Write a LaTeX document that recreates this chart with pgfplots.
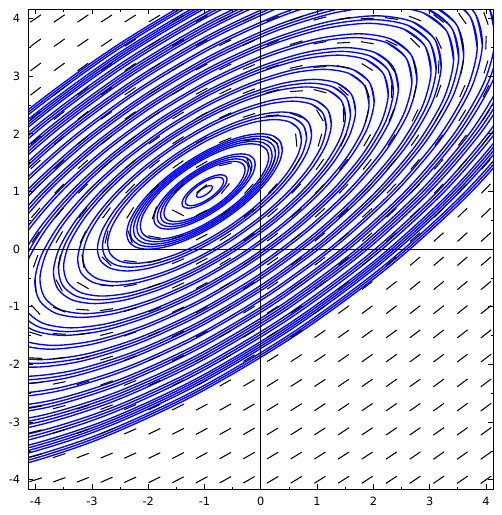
\documentclass[border=0pt]{standalone}
\usepackage{pgfplots}
\pgfplotsset{compat=1.18}
\usepackage{pgfplotstable}
\usepackage{fontspec}
\setmainfont{DejaVu Sans}

% unit closed orbit around the centre (-1,1), relative coordinates
\pgfplotstableread{
u v
2.002 1.026
1.947 1.257
1.759 1.402
1.452 1.451
1.045 1.402
0.567 1.257
0.051 1.027
-0.469 0.726
-0.957 0.376
-1.380 0.000
-1.708 -0.375
-1.921 -0.725
-2.002 -1.026
-1.947 -1.257
-1.759 -1.402
-1.452 -1.451
-1.045 -1.402
-0.567 -1.257
-0.051 -1.027
0.469 -0.726
0.957 -0.376
1.380 0.000
1.708 0.375
1.921 0.725
2.002 1.026
1.947 1.257
1.759 1.402
}\orbit

% slope field: grid point and direction
\pgfplotstableread[row sep=\\]{
x y dx dy\\
-4.00 -4.00 -3.43 -1.05\\ -3.58 -4.00 -3.65 -1.27\\ -3.16 -4.00 -3.87 -1.49\\ -2.74 -4.00 -4.09 -1.71\\ -2.32 -4.00 -4.31 -1.93\\
-1.89 -4.00 -4.53 -2.16\\ -1.47 -4.00 -4.75 -2.38\\ -1.05 -4.00 -4.97 -2.60\\ -0.63 -4.00 -5.19 -2.82\\ -0.21 -4.00 -5.41 -3.04\\
0.21 -4.00 -5.64 -3.26\\ 0.63 -4.00 -5.86 -3.48\\ 1.05 -4.00 -6.08 -3.70\\ 1.47 -4.00 -6.30 -3.92\\ 1.89 -4.00 -6.52 -4.15\\
2.32 -4.00 -6.74 -4.37\\ 2.74 -4.00 -6.96 -4.59\\ 3.16 -4.00 -7.18 -4.81\\ 3.58 -4.00 -7.40 -5.03\\ 4.00 -4.00 -7.63 -5.25\\
-4.00 -3.58 -3.00 -0.83\\ -3.58 -3.58 -3.23 -1.05\\ -3.16 -3.58 -3.45 -1.27\\ -2.74 -3.58 -3.67 -1.49\\ -2.32 -3.58 -3.89 -1.71\\
-1.89 -3.58 -4.11 -1.93\\ -1.47 -3.58 -4.33 -2.16\\ -1.05 -3.58 -4.55 -2.38\\ -0.63 -3.58 -4.77 -2.60\\ -0.21 -3.58 -4.99 -2.82\\
0.21 -3.58 -5.22 -3.04\\ 0.63 -3.58 -5.44 -3.26\\ 1.05 -3.58 -5.66 -3.48\\ 1.47 -3.58 -5.88 -3.70\\ 1.89 -3.58 -6.10 -3.92\\
2.32 -3.58 -6.32 -4.15\\ 2.74 -3.58 -6.54 -4.37\\ 3.16 -3.58 -6.76 -4.59\\ 3.58 -3.58 -6.98 -4.81\\ 4.00 -3.58 -7.20 -5.03\\
-4.00 -3.16 -2.58 -0.61\\ -3.58 -3.16 -2.80 -0.83\\ -3.16 -3.16 -3.03 -1.05\\ -2.74 -3.16 -3.25 -1.27\\ -2.32 -3.16 -3.47 -1.49\\
-1.89 -3.16 -3.69 -1.71\\ -1.47 -3.16 -3.91 -1.93\\ -1.05 -3.16 -4.13 -2.16\\ -0.63 -3.16 -4.35 -2.38\\ -0.21 -3.16 -4.57 -2.60\\
0.21 -3.16 -4.79 -2.82\\ 0.63 -3.16 -5.02 -3.04\\ 1.05 -3.16 -5.24 -3.26\\ 1.47 -3.16 -5.46 -3.48\\ 1.89 -3.16 -5.68 -3.70\\
2.32 -3.16 -5.90 -3.92\\ 2.74 -3.16 -6.12 -4.15\\ 3.16 -3.16 -6.34 -4.37\\ 3.58 -3.16 -6.56 -4.59\\ 4.00 -3.16 -6.78 -4.81\\
-4.00 -2.74 -2.16 -0.39\\ -3.58 -2.74 -2.38 -0.61\\ -3.16 -2.74 -2.60 -0.83\\ -2.74 -2.74 -2.83 -1.05\\ -2.32 -2.74 -3.05 -1.27\\
-1.89 -2.74 -3.27 -1.49\\ -1.47 -2.74 -3.49 -1.71\\ -1.05 -2.74 -3.71 -1.93\\ -0.63 -2.74 -3.93 -2.16\\ -0.21 -2.74 -4.15 -2.38\\
0.21 -2.74 -4.37 -2.60\\ 0.63 -2.74 -4.59 -2.82\\ 1.05 -2.74 -4.82 -3.04\\ 1.47 -2.74 -5.04 -3.26\\ 1.89 -2.74 -5.26 -3.48\\
2.32 -2.74 -5.48 -3.70\\ 2.74 -2.74 -5.70 -3.92\\ 3.16 -2.74 -5.92 -4.15\\ 3.58 -2.74 -6.14 -4.37\\ 4.00 -2.74 -6.36 -4.59\\
-4.00 -2.32 -1.74 -0.17\\ -3.58 -2.32 -1.96 -0.39\\ -3.16 -2.32 -2.18 -0.61\\ -2.74 -2.32 -2.40 -0.83\\ -2.32 -2.32 -2.63 -1.05\\
-1.89 -2.32 -2.85 -1.27\\ -1.47 -2.32 -3.07 -1.49\\ -1.05 -2.32 -3.29 -1.71\\ -0.63 -2.32 -3.51 -1.93\\ -0.21 -2.32 -3.73 -2.16\\
0.21 -2.32 -3.95 -2.38\\ 0.63 -2.32 -4.17 -2.60\\ 1.05 -2.32 -4.39 -2.82\\ 1.47 -2.32 -4.62 -3.04\\ 1.89 -2.32 -4.84 -3.26\\
2.32 -2.32 -5.06 -3.48\\ 2.74 -2.32 -5.28 -3.70\\ 3.16 -2.32 -5.50 -3.92\\ 3.58 -2.32 -5.72 -4.15\\ 4.00 -2.32 -5.94 -4.37\\
-4.00 -1.89 -1.32 0.06\\ -3.58 -1.89 -1.54 -0.17\\ -3.16 -1.89 -1.76 -0.39\\ -2.74 -1.89 -1.98 -0.61\\ -2.32 -1.89 -2.20 -0.83\\
-1.89 -1.89 -2.43 -1.05\\ -1.47 -1.89 -2.65 -1.27\\ -1.05 -1.89 -2.87 -1.49\\ -0.63 -1.89 -3.09 -1.71\\ -0.21 -1.89 -3.31 -1.93\\
0.21 -1.89 -3.53 -2.16\\ 0.63 -1.89 -3.75 -2.38\\ 1.05 -1.89 -3.97 -2.60\\ 1.47 -1.89 -4.19 -2.82\\ 1.89 -1.89 -4.42 -3.04\\
2.32 -1.89 -4.64 -3.26\\ 2.74 -1.89 -4.86 -3.48\\ 3.16 -1.89 -5.08 -3.70\\ 3.58 -1.89 -5.30 -3.92\\ 4.00 -1.89 -5.52 -4.15\\
-4.00 -1.47 -0.90 0.28\\ -3.58 -1.47 -1.12 0.06\\ -3.16 -1.47 -1.34 -0.17\\ -2.74 -1.47 -1.56 -0.39\\ -2.32 -1.47 -1.78 -0.61\\
-1.89 -1.47 -2.00 -0.83\\ -1.47 -1.47 -2.23 -1.05\\ -1.05 -1.47 -2.45 -1.27\\ -0.63 -1.47 -2.67 -1.49\\ -0.21 -1.47 -2.89 -1.71\\
0.21 -1.47 -3.11 -1.93\\ 0.63 -1.47 -3.33 -2.16\\ 1.05 -1.47 -3.55 -2.38\\ 1.47 -1.47 -3.77 -2.60\\ 1.89 -1.47 -3.99 -2.82\\
2.32 -1.47 -4.22 -3.04\\ 2.74 -1.47 -4.44 -3.26\\ 3.16 -1.47 -4.66 -3.48\\ 3.58 -1.47 -4.88 -3.70\\ 4.00 -1.47 -5.10 -3.92\\
-4.00 -1.05 -0.48 0.50\\ -3.58 -1.05 -0.70 0.28\\ -3.16 -1.05 -0.92 0.06\\ -2.74 -1.05 -1.14 -0.17\\ -2.32 -1.05 -1.36 -0.39\\
-1.89 -1.05 -1.58 -0.61\\ -1.47 -1.05 -1.80 -0.83\\ -1.05 -1.05 -2.03 -1.05\\ -0.63 -1.05 -2.25 -1.27\\ -0.21 -1.05 -2.47 -1.49\\
0.21 -1.05 -2.69 -1.71\\ 0.63 -1.05 -2.91 -1.93\\ 1.05 -1.05 -3.13 -2.16\\ 1.47 -1.05 -3.35 -2.38\\ 1.89 -1.05 -3.57 -2.60\\
2.32 -1.05 -3.79 -2.82\\ 2.74 -1.05 -4.02 -3.04\\ 3.16 -1.05 -4.24 -3.26\\ 3.58 -1.05 -4.46 -3.48\\ 4.00 -1.05 -4.68 -3.70\\
-4.00 -0.63 -0.06 0.72\\ -3.58 -0.63 -0.28 0.50\\ -3.16 -0.63 -0.50 0.28\\ -2.74 -0.63 -0.72 0.06\\ -2.32 -0.63 -0.94 -0.17\\
-1.89 -0.63 -1.16 -0.39\\ -1.47 -0.63 -1.38 -0.61\\ -1.05 -0.63 -1.60 -0.83\\ -0.63 -0.63 -1.83 -1.05\\ -0.21 -0.63 -2.05 -1.27\\
0.21 -0.63 -2.27 -1.49\\ 0.63 -0.63 -2.49 -1.71\\ 1.05 -0.63 -2.71 -1.93\\ 1.47 -0.63 -2.93 -2.16\\ 1.89 -0.63 -3.15 -2.38\\
2.32 -0.63 -3.37 -2.60\\ 2.74 -0.63 -3.59 -2.82\\ 3.16 -0.63 -3.82 -3.04\\ 3.58 -0.63 -4.04 -3.26\\ 4.00 -0.63 -4.26 -3.48\\
-4.00 -0.21 0.36 0.94\\ -3.58 -0.21 0.14 0.72\\ -3.16 -0.21 -0.08 0.50\\ -2.74 -0.21 -0.30 0.28\\ -2.32 -0.21 -0.52 0.06\\
-1.89 -0.21 -0.74 -0.17\\ -1.47 -0.21 -0.96 -0.39\\ -1.05 -0.21 -1.18 -0.61\\ -0.63 -0.21 -1.40 -0.83\\ -0.21 -0.21 -1.63 -1.05\\
0.21 -0.21 -1.85 -1.27\\ 0.63 -0.21 -2.07 -1.49\\ 1.05 -0.21 -2.29 -1.71\\ 1.47 -0.21 -2.51 -1.93\\ 1.89 -0.21 -2.73 -2.16\\
2.32 -0.21 -2.95 -2.38\\ 2.74 -0.21 -3.17 -2.60\\ 3.16 -0.21 -3.39 -2.82\\ 3.58 -0.21 -3.62 -3.04\\ 4.00 -0.21 -3.84 -3.26\\
-4.00 0.21 0.79 1.16\\ -3.58 0.21 0.57 0.94\\ -3.16 0.21 0.34 0.72\\ -2.74 0.21 0.12 0.50\\ -2.32 0.21 -0.10 0.28\\
-1.89 0.21 -0.32 0.06\\ -1.47 0.21 -0.54 -0.17\\ -1.05 0.21 -0.76 -0.39\\ -0.63 0.21 -0.98 -0.61\\ -0.21 0.21 -1.20 -0.83\\
0.21 0.21 -1.43 -1.05\\ 0.63 0.21 -1.65 -1.27\\ 1.05 0.21 -1.87 -1.49\\ 1.47 0.21 -2.09 -1.71\\ 1.89 0.21 -2.31 -1.93\\
2.32 0.21 -2.53 -2.16\\ 2.74 0.21 -2.75 -2.38\\ 3.16 0.21 -2.97 -2.60\\ 3.58 0.21 -3.19 -2.82\\ 4.00 0.21 -3.41 -3.04\\
-4.00 0.63 1.21 1.38\\ -3.58 0.63 0.99 1.16\\ -3.16 0.63 0.77 0.94\\ -2.74 0.63 0.54 0.72\\ -2.32 0.63 0.32 0.50\\
-1.89 0.63 0.10 0.28\\ -1.47 0.63 -0.12 0.06\\ -1.05 0.63 -0.34 -0.17\\ -0.63 0.63 -0.56 -0.39\\ -0.21 0.63 -0.78 -0.61\\
0.21 0.63 -1.00 -0.83\\ 0.63 0.63 -1.23 -1.05\\ 1.05 0.63 -1.45 -1.27\\ 1.47 0.63 -1.67 -1.49\\ 1.89 0.63 -1.89 -1.71\\
2.32 0.63 -2.11 -1.93\\ 2.74 0.63 -2.33 -2.16\\ 3.16 0.63 -2.55 -2.38\\ 3.58 0.63 -2.77 -2.60\\ 4.00 0.63 -2.99 -2.82\\
-4.00 1.05 1.63 1.60\\ -3.58 1.05 1.41 1.38\\ -3.16 1.05 1.19 1.16\\ -2.74 1.05 0.97 0.94\\ -2.32 1.05 0.74 0.72\\
-1.89 1.05 0.52 0.50\\ -1.47 1.05 0.30 0.28\\ -1.05 1.05 0.08 0.06\\ -0.63 1.05 -0.14 -0.17\\ -0.21 1.05 -0.36 -0.39\\
0.21 1.05 -0.58 -0.61\\ 0.63 1.05 -0.80 -0.83\\ 1.05 1.05 -1.03 -1.05\\ 1.47 1.05 -1.25 -1.27\\ 1.89 1.05 -1.47 -1.49\\
2.32 1.05 -1.69 -1.71\\ 2.74 1.05 -1.91 -1.93\\ 3.16 1.05 -2.13 -2.16\\ 3.58 1.05 -2.35 -2.38\\ 4.00 1.05 -2.57 -2.60\\
-4.00 1.47 2.05 1.82\\ -3.58 1.47 1.83 1.60\\ -3.16 1.47 1.61 1.38\\ -2.74 1.47 1.39 1.16\\ -2.32 1.47 1.17 0.94\\
-1.89 1.47 0.94 0.72\\ -1.47 1.47 0.72 0.50\\ -1.05 1.47 0.50 0.28\\ -0.63 1.47 0.28 0.06\\ -0.21 1.47 0.06 -0.17\\
0.21 1.47 -0.16 -0.39\\ 0.63 1.47 -0.38 -0.61\\ 1.05 1.47 -0.60 -0.83\\ 1.47 1.47 -0.83 -1.05\\ 1.89 1.47 -1.05 -1.27\\
2.32 1.47 -1.27 -1.49\\ 2.74 1.47 -1.49 -1.71\\ 3.16 1.47 -1.71 -1.93\\ 3.58 1.47 -1.93 -2.16\\ 4.00 1.47 -2.15 -2.38\\
-4.00 1.89 2.47 2.05\\ -3.58 1.89 2.25 1.82\\ -3.16 1.89 2.03 1.60\\ -2.74 1.89 1.81 1.38\\ -2.32 1.89 1.59 1.16\\
-1.89 1.89 1.37 0.94\\ -1.47 1.89 1.14 0.72\\ -1.05 1.89 0.92 0.50\\ -0.63 1.89 0.70 0.28\\ -0.21 1.89 0.48 0.06\\
0.21 1.89 0.26 -0.17\\ 0.63 1.89 0.04 -0.39\\ 1.05 1.89 -0.18 -0.61\\ 1.47 1.89 -0.40 -0.83\\ 1.89 1.89 -0.63 -1.05\\
2.32 1.89 -0.85 -1.27\\ 2.74 1.89 -1.07 -1.49\\ 3.16 1.89 -1.29 -1.71\\ 3.58 1.89 -1.51 -1.93\\ 4.00 1.89 -1.73 -2.16\\
-4.00 2.32 2.89 2.27\\ -3.58 2.32 2.67 2.05\\ -3.16 2.32 2.45 1.82\\ -2.74 2.32 2.23 1.60\\ -2.32 2.32 2.01 1.38\\
-1.89 2.32 1.79 1.16\\ -1.47 2.32 1.57 0.94\\ -1.05 2.32 1.34 0.72\\ -0.63 2.32 1.12 0.50\\ -0.21 2.32 0.90 0.28\\
0.21 2.32 0.68 0.06\\ 0.63 2.32 0.46 -0.17\\ 1.05 2.32 0.24 -0.39\\ 1.47 2.32 0.02 -0.61\\ 1.89 2.32 -0.20 -0.83\\
2.32 2.32 -0.43 -1.05\\ 2.74 2.32 -0.65 -1.27\\ 3.16 2.32 -0.87 -1.49\\ 3.58 2.32 -1.09 -1.71\\ 4.00 2.32 -1.31 -1.93\\
-4.00 2.74 3.31 2.49\\ -3.58 2.74 3.09 2.27\\ -3.16 2.74 2.87 2.05\\ -2.74 2.74 2.65 1.82\\ -2.32 2.74 2.43 1.60\\
-1.89 2.74 2.21 1.38\\ -1.47 2.74 1.99 1.16\\ -1.05 2.74 1.77 0.94\\ -0.63 2.74 1.54 0.72\\ -0.21 2.74 1.32 0.50\\
0.21 2.74 1.10 0.28\\ 0.63 2.74 0.88 0.06\\ 1.05 2.74 0.66 -0.17\\ 1.47 2.74 0.44 -0.39\\ 1.89 2.74 0.22 -0.61\\
2.32 2.74 0.00 -0.83\\ 2.74 2.74 -0.23 -1.05\\ 3.16 2.74 -0.45 -1.27\\ 3.58 2.74 -0.67 -1.49\\ 4.00 2.74 -0.89 -1.71\\
-4.00 3.16 3.73 2.71\\ -3.58 3.16 3.51 2.49\\ -3.16 3.16 3.29 2.27\\ -2.74 3.16 3.07 2.05\\ -2.32 3.16 2.85 1.82\\
-1.89 3.16 2.63 1.60\\ -1.47 3.16 2.41 1.38\\ -1.05 3.16 2.19 1.16\\ -0.63 3.16 1.97 0.94\\ -0.21 3.16 1.74 0.72\\
0.21 3.16 1.52 0.50\\ 0.63 3.16 1.30 0.28\\ 1.05 3.16 1.08 0.06\\ 1.47 3.16 0.86 -0.17\\ 1.89 3.16 0.64 -0.39\\
2.32 3.16 0.42 -0.61\\ 2.74 3.16 0.20 -0.83\\ 3.16 3.16 -0.03 -1.05\\ 3.58 3.16 -0.25 -1.27\\ 4.00 3.16 -0.47 -1.49\\
-4.00 3.58 4.15 2.93\\ -3.58 3.58 3.93 2.71\\ -3.16 3.58 3.71 2.49\\ -2.74 3.58 3.49 2.27\\ -2.32 3.58 3.27 2.05\\
-1.89 3.58 3.05 1.82\\ -1.47 3.58 2.83 1.60\\ -1.05 3.58 2.61 1.38\\ -0.63 3.58 2.39 1.16\\ -0.21 3.58 2.17 0.94\\
0.21 3.58 1.94 0.72\\ 0.63 3.58 1.72 0.50\\ 1.05 3.58 1.50 0.28\\ 1.47 3.58 1.28 0.06\\ 1.89 3.58 1.06 -0.17\\
2.32 3.58 0.84 -0.39\\ 2.74 3.58 0.62 -0.61\\ 3.16 3.58 0.40 -0.83\\ 3.58 3.58 0.18 -1.05\\ 4.00 3.58 -0.05 -1.27\\
-4.00 4.00 4.58 3.15\\ -3.58 4.00 4.35 2.93\\ -3.16 4.00 4.13 2.71\\ -2.74 4.00 3.91 2.49\\ -2.32 4.00 3.69 2.27\\
-1.89 4.00 3.47 2.05\\ -1.47 4.00 3.25 1.82\\ -1.05 4.00 3.03 1.60\\ -0.63 4.00 2.81 1.38\\ -0.21 4.00 2.59 1.16\\
0.21 4.00 2.36 0.94\\ 0.63 4.00 2.14 0.72\\ 1.05 4.00 1.92 0.50\\ 1.47 4.00 1.70 0.28\\ 1.89 4.00 1.48 0.06\\
2.32 4.00 1.26 -0.17\\ 2.74 4.00 1.04 -0.39\\ 3.16 4.00 0.82 -0.61\\ 3.58 4.00 0.60 -0.83\\ 4.00 4.00 0.38 -1.05\\
}\field

\begin{document}
\begin{tikzpicture}
\begin{axis}[
  name=ax,
  scale only axis,
  width=465bp, height=479.7bp,
  xmin=-4.13, xmax=4.13, ymin=-4.16, ymax=4.16,
  xtick={-4,-3,-2,-1,0,1,2,3,4},
  ytick={-4,-3,-2,-1,0,1,2,3,4},
  xticklabels={-4,-3,-2,-1,0,1,2,3,4},
  yticklabels={-4,-3,-2,-1,0,1,2,3,4},
  minor tick num=1,
  tick align=inside,
  major tick length=5bp, minor tick length=2.5bp,
  every tick/.style={black, line width=0.8bp},
  axis line style={line width=1bp},
  tick label style={font=\fontsize{11.4}{13}\selectfont, inner sep=0pt},
  xticklabel style={yshift=-8bp},
  yticklabel style={xshift=-8bp},
  extra x ticks={0}, extra y ticks={0},
  extra x tick labels={}, extra y tick labels={},
  extra tick style={grid=major, major grid style={black, line width=0.8bp}},
  axis on top,
]
\pgfplotsinvokeforeach{0.07,0.17,0.20,0.36,0.39,0.42,0.45,0.57,0.60,0.63,0.66,0.69,
  0.86,0.905,0.95,1.08,1.125,1.25,1.295,1.34,1.46,1.505,1.63,1.675,1.72,1.84,1.885,
  2.01,2.055,2.10,2.21,2.255,2.30,2.42,2.465,2.58,2.625,2.67,2.77,2.815,2.86,2.905,
  3.00,3.045,3.09,3.17,3.21,3.25,3.29,3.36,3.40,3.44}{
  \addplot[blue, line width=1.35bp, smooth] table[x expr={-1+#1*\thisrow{u}}, y expr={1+#1*\thisrow{v}}] {\orbit};
}
\addplot[black, line width=1.05bp,
  quiver={u={0.23*\thisrow{dx}/veclen(\thisrow{dx},\thisrow{dy})},
          v={0.23*\thisrow{dy}/veclen(\thisrow{dx},\thisrow{dy})}}]
  table[x expr={\thisrow{x}-0.115*\thisrow{dx}/veclen(\thisrow{dx},\thisrow{dy})},
        y expr={\thisrow{y}-0.115*\thisrow{dy}/veclen(\thisrow{dx},\thisrow{dy})}] {\field};
\end{axis}
\path ([shift={(-28.3bp,-26bp)}]ax.south west) rectangle ([shift={(8.7bp,9.3bp)}]ax.north east);
\end{tikzpicture}
\end{document}
